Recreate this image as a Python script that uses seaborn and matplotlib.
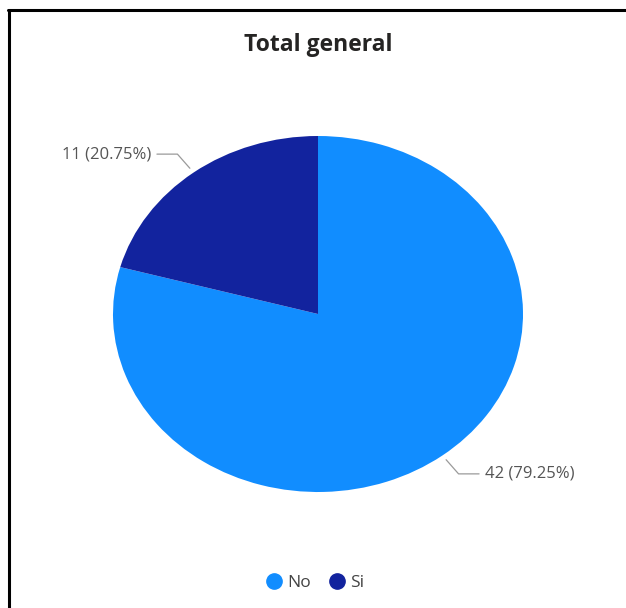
import numpy as np
import matplotlib
matplotlib.use("Agg")
import matplotlib.pyplot as plt
from matplotlib.lines import Line2D
import seaborn as sns

sns.set_theme(style="white")
plt.rcParams["font.family"] = ["Open Sans", "DejaVu Sans"]

categories = ["No", "Si"]
counts = [42, 11]
percents = [79.25, 20.75]
colors = ["#118DFF", "#12239E"]
title = "Total general"

fig = plt.figure(figsize=(6.26, 6.08), dpi=100)
fig.patch.set_facecolor("white")

# pie is stretched into an ellipse, so size the axes in pixels
W, H = 626, 608
left, right, top, bottom = 113, 523, 136, 492
ax = fig.add_axes([left / W, 1 - bottom / H, (right - left) / W, (bottom - top) / H])

wedges, _ = ax.pie(
    counts,
    colors=colors,
    startangle=90,
    counterclock=False,
    radius=1.0,
    wedgeprops=dict(linewidth=0),
)
ax.set_aspect("auto")
ax.set_xlim(-1, 1)
ax.set_ylim(-1, 1)
ax.axis("off")

# data labels with leader lines
for w, n, p in zip(wedges, counts, percents):
    ang = np.deg2rad((w.theta1 + w.theta2) / 2)
    c, s = np.cos(ang), np.sin(ang)
    side = 1 if c > 0 else -1
    p1 = (1.03 * c, 1.03 * s)
    p2 = (1.13 * c, 1.13 * s)
    p3 = (p2[0] + side * 0.1, p2[1])
    ax.plot([p1[0], p2[0], p3[0]], [p1[1], p2[1], p3[1]],
            color="#9a9a9a", lw=0.9, clip_on=False)
    ax.text(p3[0] + side * 0.03, p3[1], f"{n} ({p:.2f}%)",
            ha="left" if side > 0 else "right", va="center",
            fontsize=12, color="#555555", clip_on=False)

fig.text(0.508, 1 - 45 / H, title, ha="center", va="center",
         fontsize=16.5, fontweight="bold", color="#252423")

handles = [Line2D([], [], marker="o", linestyle="", markersize=11,
                  markerfacecolor=col, markeredgecolor=col) for col in colors]
fig.legend(handles, categories, loc="center", bbox_to_anchor=(0.503, 1 - 583 / H),
           ncol=2, frameon=False, fontsize=12.5, handletextpad=0.25,
           columnspacing=1.0, handlelength=1.0, labelcolor="#444444")

# frame lines on the left and top edges
fig.add_artist(Line2D([9 / W, 9 / W], [0, 1 - 10 / H], color="black", lw=2.2,
                      transform=fig.transFigure))
fig.add_artist(Line2D([8 / W, 1], [1 - 10 / H, 1 - 10 / H], color="black", lw=2.2,
                      transform=fig.transFigure))

fig.savefig("out.png", dpi=100, facecolor="white")
